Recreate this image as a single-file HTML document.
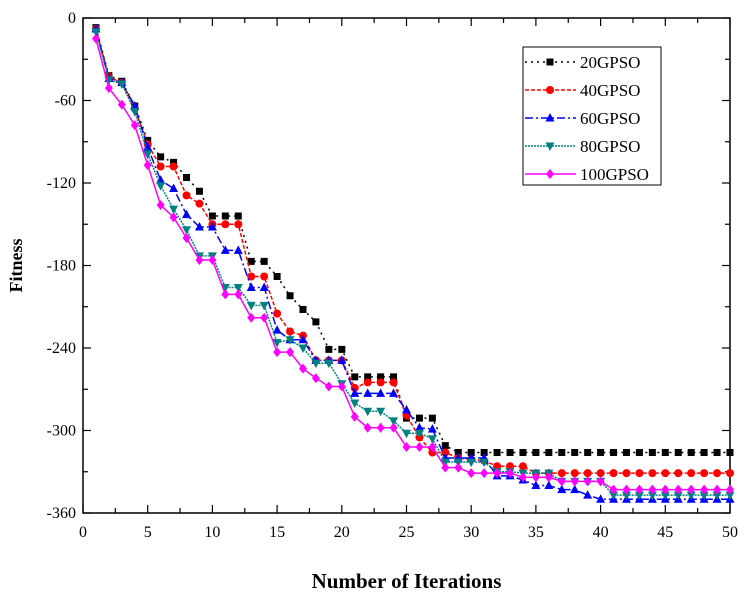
<!DOCTYPE html>
<html><head><meta charset="utf-8"><style>
html,body{margin:0;padding:0;background:#fff;}
svg{display:block;font-family:"Liberation Serif",serif;}
</style></head><body>
<svg id="chart" width="744" height="602"></svg>
<script>
const iterations = Array.from({length:50},(_,i)=>i+1);
const s20 = [-7,-42,-46,-64,-89,-101,-105,-116,-126,-144,-144,-144,-177,-177,-188,-202,-212,-221,-241,-241,-261,-261,-261,-261,-291,-291,-291,-311,-316,-316,-316,-316,-316,-316,-316,-316,-316,-316,-316,-316,-316,-316,-316,-316,-316,-316,-316,-316,-316,-316];
const s40 = [-8,-43,-47,-66,-92,-108,-108,-129,-135,-150,-150,-150,-188,-188,-215,-228,-231,-249,-249,-249,-269,-265,-265,-265,-289,-305,-316,-316,-320,-321,-322,-326,-326,-326,-331,-331,-331,-331,-331,-331,-331,-331,-331,-331,-331,-331,-331,-331,-331,-331];
const s60 = [-8,-44,-47,-64,-94,-118,-124,-143,-152,-152,-169,-169,-196,-196,-227,-234,-234,-249,-249,-249,-273,-273,-273,-273,-285,-298,-299,-320,-320,-320,-320,-333,-333,-336,-340,-340,-343,-343,-347,-350,-350,-350,-350,-350,-350,-350,-350,-350,-350,-350];
const s80 = [-10,-45,-48,-68,-99,-122,-139,-154,-173,-173,-196,-196,-209,-209,-236,-234,-240,-251,-251,-266,-280,-286,-286,-293,-302,-302,-306,-323,-323,-323,-323,-330,-330,-331,-331,-331,-337,-337,-337,-337,-347,-347,-347,-347,-347,-347,-347,-347,-347,-347];
const s100 = [-15,-51,-63,-78,-107,-136,-145,-160,-176,-176,-201,-201,-218,-218,-243,-243,-255,-262,-268,-268,-290,-298,-298,-298,-312,-312,-312,-327,-327,-331,-331,-331,-331,-334,-334,-334,-337,-337,-337,-337,-343,-343,-343,-343,-343,-343,-343,-343,-343,-343];
const xTicks = [0,5,10,15,20,25,30,35,40,45,50];
const yTicks = [0,-60,-120,-180,-240,-300,-360];
const seriesNames = ["20GPSO","40GPSO","60GPSO","80GPSO","100GPSO"];

const L=83,R=730,T=18,B=513;
const xs=v=>L+(v-0)/50*(R-L);
const ys=v=>T+(0-v)/360*(B-T);
const NS="http://www.w3.org/2000/svg";
const svg=document.getElementById('chart');
function el(tag,attrs,parent){const e=document.createElementNS(NS,tag);for(const k in attrs)e.setAttribute(k,attrs[k]);(parent||svg).appendChild(e);return e;}

// frame
const frame=el('rect',{x:L,y:T,width:R-L,height:B-T,fill:'none',stroke:'#000','stroke-width':1.5});



// ticks
for(let v=0;v<=50;v+=2.5){
  const major=v%5===0, len=major?8:5, x=xs(v);
  el('line',{x1:x,y1:B,x2:x,y2:B-len,stroke:'#000','stroke-width':1.2});
  el('line',{x1:x,y1:T,x2:x,y2:T+len,stroke:'#000','stroke-width':1.2});
}
for(let v=0;v>=-360;v-=30){
  const major=v%60===0, len=major?8:5, y=ys(v);
  el('line',{x1:L,y1:y,x2:L+len,y2:y,stroke:'#000','stroke-width':1.2});
  el('line',{x1:R,y1:y,x2:R-len,y2:y,stroke:'#000','stroke-width':1.2});
}
xTicks.forEach(v=>{const t=el('text',{x:xs(v),y:B+24,'text-anchor':'middle','font-size':16});t.textContent=v;

});
yTicks.forEach(v=>{const t=el('text',{x:L-7,y:ys(v)+5,'text-anchor':'end','font-size':16});t.textContent=v;

});

const xt=el('text',{x:(L+R)/2,y:588,'text-anchor':'middle','font-size':21,'font-weight':'bold'});xt.textContent='Number of Iterations';


const yt=el('text',{x:0,y:0,'text-anchor':'middle','font-size':18,'font-weight':'bold',transform:`translate(22,${(T+B)/2}) rotate(-90)`});yt.textContent='Fitness';



function marker(g,type,x,y,c){
  if(type==='sq') el('rect',{x:x-3.5,y:y-3.5,width:7,height:7,fill:c},g);
  else if(type==='ci') el('circle',{cx:x,cy:y,r:4,fill:c},g);
  else if(type==='up') el('polygon',{points:`${x},${y-5} ${x-4.5},${y+3.5} ${x+4.5},${y+3.5}`,fill:c},g);
  else if(type==='dn') el('polygon',{points:`${x},${y+5} ${x-4.5},${y-3.5} ${x+4.5},${y-3.5}`,fill:c},g);
  else el('polygon',{points:`${x},${y-5} ${x+4},${y} ${x},${y+5} ${x-4},${y}`,fill:c},g);
}
const styles=[
 {data:s20,c:'#000',dash:'2,4',m:'sq',name:'series-20gpso'},
 {data:s40,c:'#ff0000',dash:'4,2',m:'ci',name:'series-40gpso'},
 {data:s60,c:'#0000ff',dash:'8,3,2,3',m:'up',name:'series-60gpso'},
 {data:s80,c:'#008080',dash:'2,1',m:'dn',name:'series-80gpso'},
 {data:s100,c:'#ff00ff',dash:'',m:'di',name:'series-100gpso'}];
styles.forEach(s=>{
  const g=el('g',{});
  
  
  const pts=s.data.map((v,i)=>`${xs(iterations[i])},${ys(v)}`).join(' ');
  const a={points:pts,fill:'none',stroke:s.c,'stroke-width':1.5};
  if(s.dash)a['stroke-dasharray']=s.dash;
  el('polyline',a,g);
  s.data.forEach((v,i)=>marker(g,s.m,xs(iterations[i]),ys(v),s.c));
});

// legend
const lg=el('g',{});


el('rect',{x:523,y:47,width:138,height:138,fill:'#fff',stroke:'#000','stroke-width':1},lg);
styles.forEach((s,i)=>{
  const y=62+i*28;
  const eg=el('g',{},lg);
  
  
  const a={x1:525,y1:y,x2:576,y2:y,stroke:s.c,'stroke-width':1.5};
  if(s.dash)a['stroke-dasharray']=s.dash;
  el('line',a,eg);
  marker(eg,s.m,550,y,s.c);
  const t=el('text',{x:580,y:y+6,'font-size':17},eg);t.textContent=seriesNames[i];
});
</script>
</body></html>
